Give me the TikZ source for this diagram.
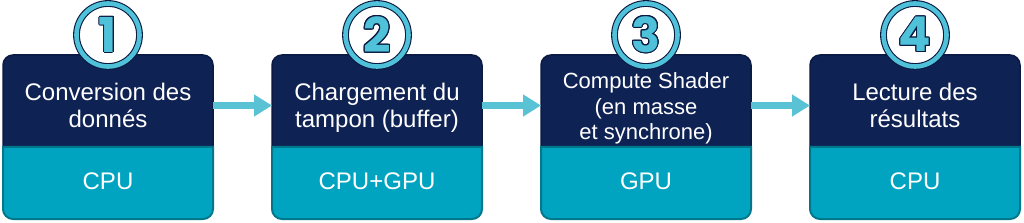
\documentclass[tikz,border=0pt]{standalone}
\usepackage{fontspec}
\setmainfont{Liberation Sans}
\newfontfamily\digitfont{Poppins}
\usepackage{contour}
\contourlength{1pt}
\usetikzlibrary{arrows.meta, positioning}

\definecolor{navyfill}{HTML}{0F2254}
\definecolor{navyline}{HTML}{0A1A42}
\definecolor{tealfill}{HTML}{00A4C0}
\definecolor{tealline}{HTML}{00788B}
\definecolor{ringcyan}{HTML}{4FC1D8}
\definecolor{flowcyan}{HTML}{5AC2D5}

\tikzset{
	taskbox/.style={rectangle, rounded corners=10pt, fill=navyfill, draw=navyline,
		line width=1.5pt, minimum width=210pt, minimum height=108pt, outer sep=0pt,
		text=white, align=center}
}
\tikzset{
	hwpart/.style={fill=tealfill, draw=tealline, line width=2pt}
}
\tikzset{
	hwtext/.style={text=white, font=\fontsize{24}{29}\selectfont, inner sep=0pt}
}
\tikzset{
	numring/.style={circle, minimum size=63pt, inner sep=0pt, fill=white,
		draw=navyline, line width=1.1pt, double=ringcyan, double distance=4.6pt,
		text=ringcyan, font=\digitfont\bfseries\fontsize{48}{48}\selectfont}
}
\tikzset{
	flowarrow/.style={draw=flowcyan, line width=7pt,
		-{Triangle[length=18pt, width=21pt]}}
}

\begin{document}
\begin{tikzpicture}[x=1pt, y=1pt]
      \useasboundingbox (0,0) rectangle (1024,222);

      % four steps: task on top, hardware below
      \foreach \i/\cx/\sz/\bs/\txt/\hw in {
          1/108/24/27/{Conversion des\strut\\donnés\strut}/CPU,
          2/377/24/27/{Chargement du\strut\\tampon (buffer)\strut}/CPU+GPU,
          3/646/22/25.5/{Compute Shader\strut\\(en masse\strut\\et synchrone)\strut}/GPU,
          4/915/24/27/{Lecture des\strut\\résultats\strut}/CPU} {
        \node[taskbox, font=\fontsize{\sz}{\bs}\selectfont] (s\i) at (\cx,113) {\txt};
        \filldraw[hwpart] (\cx-105,75) -- (\cx-105,13)
          arc[start angle=180, end angle=270, radius=10] -- (\cx+95,3)
          arc[start angle=270, end angle=360, radius=10] -- (\cx+105,75) -- cycle;
        \node[hwtext] (h\i) at (\cx,40.7) {\hw};
        \node[numring] (n\i) at (\cx,187) {\contour{navyline}{\i}};
      }

      % arrows between the steps
      \foreach \a/\b in {1/2, 2/3, 3/4} {
        \draw[flowarrow] ([yshift=3.5pt]s\a.east) -- ([yshift=3.5pt]s\b.west);
      }
    \end{tikzpicture}
\end{document}
